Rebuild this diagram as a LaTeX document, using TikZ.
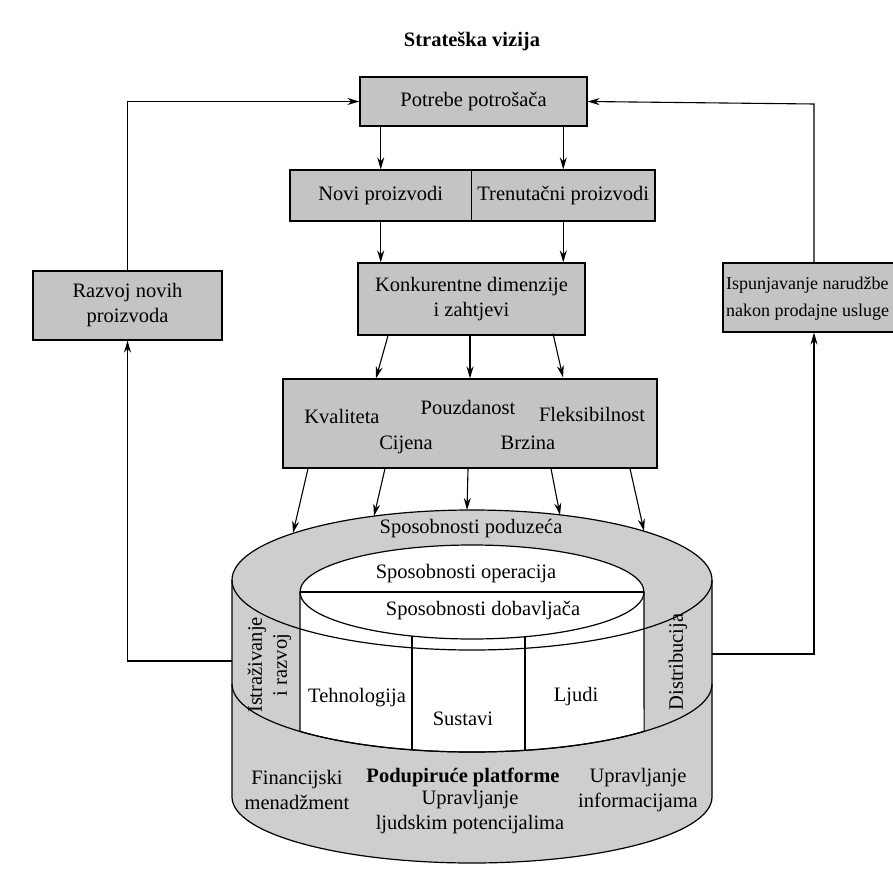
\documentclass[tikz,border=0pt]{standalone}
\usepackage{fontspec}
\setmainfont{Liberation Serif}
\usetikzlibrary{arrows.meta,calc}
\definecolor{boxgray}{RGB}{196,196,196}
\definecolor{cylgray}{RGB}{206,206,206}
\tikzset{
  every node/.style={font=\fontsize{20.5}{25}\selectfont},
  gbox/.style={draw,line width=1.2pt,fill=boxgray,inner sep=0pt,align=center},
  arr/.style={line width=1.1pt,-{Stealth[length=12pt,width=7pt]}},
  ln/.style={line width=1.2pt},
  lbl/.style={inner sep=0pt,align=center}
}
\begin{document}
\begin{tikzpicture}[x=1pt,y=1pt]
\path[use as bounding box] (0,0) rectangle (893,-882);
\clip (0,0) rectangle (893,-882);

% title
\node[lbl,font=\fontsize{20.5}{25}\selectfont\bfseries] (title) at (472,-41) {Strateška vizija};

% boxes
\node[gbox,minimum width=227,minimum height=49] (pot) at (473.5,-101.5) {Potrebe potrošača};
\node[gbox,minimum width=181.5,minimum height=51] (nov) at (380.75,-195.5) {Novi proizvodi};
\node[gbox,minimum width=183.5,minimum height=51] (tre) at (563.25,-195.5) {Trenutačni proizvodi};
\node[gbox,minimum width=227,minimum height=72] (kon) at (471.5,-299) {Konkurentne dimenzije\\i zahtjevi};
\node[gbox,minimum width=189,minimum height=69] (raz) at (127.5,-305.5) {Razvoj novih\\proizvoda};
\node[gbox,minimum width=182,minimum height=69] (isp) at (814,-297.5) {};
\node[lbl,anchor=west,align=left,font=\fontsize{18}{27}\selectfont] (ispt) at (726,-299) {Ispunjavanje narudžbe\\nakon prodajne usluge};
\node[gbox,minimum width=374,minimum height=89] (kva) at (470,-423.5) {};
\node[lbl] (t1) at (342,-416) {Kvaliteta};
\node[lbl] (t2) at (468,-407) {Pouzdanost};
\node[lbl] (t3) at (592,-414) {Fleksibilnost};
\node[lbl] (t4) at (406,-445) {Cijena};
\node[lbl] (t5) at (528,-443) {Brzina};

% cylinder
\fill[cylgray] (232,-580) -- (232,-797) arc[start angle=180,end angle=360,x radius=240,y radius=66]
  -- (712,-580) arc[start angle=0,end angle=180,x radius=240,y radius=70] -- cycle;
\draw[ln] (232,-580) -- (232,-797) arc[start angle=180,end angle=360,x radius=240,y radius=66]
  -- (712,-580) arc[start angle=0,end angle=180,x radius=240,y radius=70] -- cycle;
% inner white part
\filldraw[ln,fill=white] (300,-592) -- (300,-731.4) arc[start angle=224.2,end angle=315.8,x radius=240,y radius=68]
  -- (644,-592) arc[start angle=0,end angle=180,x radius=172,y radius=47] -- cycle;
\draw[ln] (300,-592) -- (644,-592);
\draw[ln] (644,-592) arc[start angle=0,end angle=-180,x radius=172,y radius=47];
% lower front arc of the top ellipse
\draw[ln] (712,-580) arc[start angle=0,end angle=-180,x radius=240,y radius=70];
% middle arc
\draw[ln] (232,-684) arc[start angle=180,end angle=360,x radius=240,y radius=68];
% dividers
\draw[ln] (412,-636) -- (412,-749.8);
\draw[ln] (525,-636.7) -- (525,-750.3);

% cylinder texts
\node[lbl] (sp) at (471,-529) {Sposobnosti poduzeća};
\node[lbl] (so) at (466,-574) {Sposobnosti operacija};
\node[lbl] (sd) at (483,-611) {Sposobnosti dobavljača};
\node[lbl,rotate=90] (ir) at (269.5,-665) {Istraživanje\\i razvoj};
\node[lbl,rotate=90] (di) at (678,-662) {Distribucija};
\node[lbl] (te) at (357,-698) {Tehnologija};
\node[lbl] (su) at (463,-719) {Sustavi};
\node[lbl] (lj) at (576,-697) {Ljudi};
\node[lbl] (fm) at (297,-790) {Financijski\\menadžment};
\node[lbl,font=\fontsize{20.5}{25}\selectfont\bfseries] (pp) at (463,-777) {Podupiruće platforme};
\node[lbl] (ul) at (470,-812) {Upravljanje\\ljudskim potencijalima};
\node[lbl] (ui) at (638,-790) {Upravljanje\\informacijama};

% coordinates on cylinder
\coordinate (c1) at (293,-533);
\coordinate (c2) at (374,-516);
\coordinate (c3) at (467,-510);
\coordinate (c4) at (560,-515);
\coordinate (c5) at (644,-531);
\coordinate (cl) at (232,-661);
\coordinate (cr) at (712,-654);
\coordinate (rt) at (814,-104);

% connectors
\draw[arr] (pot.south -| nov.north) -- (nov.north);
\draw[arr] (pot.south -| tre.north) -- (tre.north);
\draw[arr] (nov.south) -- (nov.south |- kon.north);
\draw[arr] (tre.south) -- (tre.south |- kon.north);
\draw[arr] ($(kon.south)+(-83.5,0)$) -- ($(kva.north)+(-94,0)$);
\draw[arr] ($(kon.south)+(-1.5,0)$) -- ($(kva.north)+(0,0)$);
\draw[arr] ($(kon.south)+(81.5,2)$) -- ($(kva.north)+(93,1)$);
\draw[arr] ($(kva.south)+(-162,0)$) -- (c1);
\draw[arr] ($(kva.south)+(-85,0)$) -- (c2);
\draw[arr] ($(kva.south)+(-2,0)$) -- (c3);
\draw[arr] ($(kva.south)+(81,0)$) -- (c4);
\draw[arr] ($(kva.south)+(160,0)$) -- (c5);
\draw[arr] (raz.north) |- (pot.west);
\draw[arr] (isp.north) -- (rt) -- (pot.east);
\draw[arr] (cl) -| (raz.south);
\draw[arr] (cr) -| (isp.south);
\end{tikzpicture}
\end{document}
